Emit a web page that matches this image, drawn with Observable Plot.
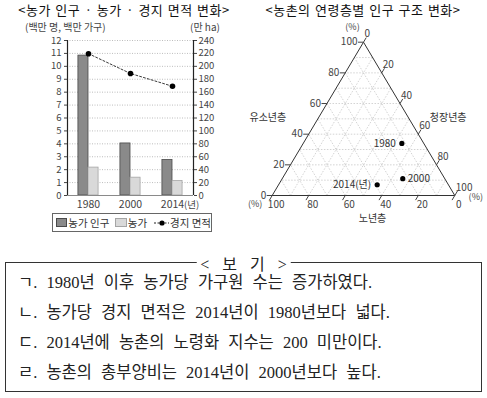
<!DOCTYPE html>
<html>
<head>
<meta charset="utf-8">
<script src="https://cdn.jsdelivr.net/npm/d3@7"></script>
<script src="https://cdn.jsdelivr.net/npm/@observablehq/plot@0.6"></script>
<style>
  html, body { margin: 0; padding: 0; background: #fff; }
  #page { position: relative; width: 487px; height: 398px; overflow: hidden; background: #fff;
          font-family: "Noto Sans CJK KR", "Noto Sans", sans-serif; color: #222; }
  .abs { position: absolute; white-space: nowrap; }
  .title { font-size: 13px; color: #111; transform: translateX(-50%); letter-spacing: 0.5px; word-spacing: 1px; }
  .unit { font-size: 10px; color: #444; }
  #legend { left: 52px; top: 213px; width: 158px; height: 17px; border: 1px solid #666;
            display: flex; align-items: center; font-size: 10.5px; color: #333; }
  .sw { display: inline-block; width: 10px; height: 7px; margin: 0 1px 0 3px; }
  #box { left: 5px; top: 262px; width: 475px; height: 128px; border: 1px solid #333; }
  #boxlabel { left: 50%; top: -12px; transform: translateX(-50%); background: #fff; padding: 0 4px;
              font-family: "Liberation Serif", "Noto Sans CJK KR", serif; font-size: 16px; color: #222; word-spacing: 9px; }
  .stmt { left: 12px; font-family: "Liberation Serif", "Noto Sans CJK KR", serif; font-size: 16.5px; color: #222;
          line-height: 20px; word-spacing: 5px; }
</style>
</head>
<body>
<div id="page"></div>
<script>
// ---------------- data ----------------
const years = ["1980", "2000", "2014"];
const farmPopulation = [10.83, 4.03, 2.75];   // 농가 인구 (백만 명)
const farmHouseholds = [2.16, 1.38, 1.12];    // 농가 (백만 가구)
const farmlandArea = [219.6, 188.9, 169.1];   // 경지 면적 (만 ha)
const leftTicks = [0, 1, 2, 3, 4, 5, 6, 7, 8, 9, 10, 11, 12];
const rightTicks = [0, 20, 40, 60, 80, 100, 120, 140, 160, 180, 200, 220, 240];

const ternYears = ["1980", "2000", "2014"];
const youthShare = [34, 11, 7];      // 유소년층 (%)
const workingShare = [54, 66, 54];   // 청장년층 (%)
const elderlyShare = [12, 23, 39];   // 노년층 (%)
const ternTicks = [0, 20, 40, 60, 80, 100];

const statements = [
  "ㄱ. 1980년 이후 농가당 가구원 수는 증가하였다.",
  "ㄴ. 농가당 경지 면적은 2014년이 1980년보다 넓다.",
  "ㄷ. 2014년에 농촌의 노령화 지수는 200 미만이다.",
  "ㄹ. 농촌의 총부양비는 2014년이 2000년보다 높다."
];

// ---------------- page ----------------
const page = document.getElementById("page");
function addDiv(cls, text, style) {
  const d = document.createElement("div");
  d.className = "abs " + cls;
  d.textContent = text;
  Object.assign(d.style, style || {});
  page.appendChild(d);
  return d;
}
const FONT = "'Noto Sans CJK KR', 'Noto Sans', sans-serif";

// ---------------- left chart ----------------
const ratio = rightTicks[rightTicks.length - 1] / leftTicks[leftTicks.length - 1];
const rows = years.map((y, i) => ({ year: y, i, pop: farmPopulation[i], hh: farmHouseholds[i], area: farmlandArea[i] }));
const barW = 0.24;
const cx = d => d.i + 0.5;

const left = Plot.plot({
  width: 245, height: 240,
  marginLeft: 67, marginRight: 52, marginTop: 40, marginBottom: 45,
  style: { fontFamily: FONT, fontSize: "9.5px", color: "#444", background: "transparent", overflow: "visible" },
  x: { domain: [0, years.length], axis: null },
  y: { domain: [0, leftTicks[leftTicks.length - 1]], axis: null },
  marks: [
    Plot.ruleY(leftTicks.filter(d => d > 0), { stroke: "#bdbdbd", strokeDasharray: "1,1.5" }),
    Plot.rect(rows, { x1: d => cx(d) - barW, x2: cx, y1: () => 0, y2: "pop", fill: "#8a8a8a", stroke: "#4a4a4a", strokeWidth: 0.8 }),
    Plot.rect(rows, { x1: cx, x2: d => cx(d) + barW, y1: () => 0, y2: "hh", fill: "#d9d9d9", stroke: "#a5a5a5", strokeWidth: 0.8 }),
    Plot.line(rows, { x: cx, y: d => d.area / ratio, stroke: "#222", strokeWidth: 0.9, strokeDasharray: "2,2" }),
    Plot.dot(rows, { x: cx, y: d => d.area / ratio, r: 2.8, fill: "#000", stroke: null }),
    Plot.ruleY([0], { stroke: "#8a8a8a" }),
    Plot.ruleX([0], { stroke: "#222", strokeWidth: 1.2 }),
    Plot.ruleX([years.length], { stroke: "#222", strokeWidth: 1.2 }),
    Plot.axisY(leftTicks, { anchor: "left", tickSize: 3, tickPadding: 3, tickFormat: d => d }),
    Plot.axisY(rightTicks.map(v => v / ratio), { anchor: "right", tickSize: 3, tickPadding: 2, tickFormat: d => Math.round(d * ratio) }),
    Plot.text(rows, { x: cx, frameAnchor: "bottom", dy: 12, text: "year", fontSize: 10.5, fill: "#444" }),
    Plot.text(rows.slice(-1), { x: cx, frameAnchor: "bottom", dy: 12, dx: 11.5, textAnchor: "start", text: () => "(년)", fontSize: 9.5, fill: "#444" })
  ]
});
left.style.position = "absolute";
left.style.left = "0px";
left.style.top = "0px";
page.appendChild(left);

addDiv("title", "<농가 인구 · 농가 · 경지 면적 변화>", { left: "124px", top: "0px" });
addDiv("unit", "(백만 명, 백만 가구)", { left: "25px", top: "19px" });
addDiv("unit", "(만 ha)", { left: "190px", top: "19px" });

const legend = addDiv("", "", {});
legend.id = "legend";
legend.innerHTML =
  '<span class="sw" style="background:#8a8a8a;border:1px solid #4a4a4a"></span><span>농가 인구</span>' +
  '<span class="sw" style="background:#d9d9d9;border:1px solid #a5a5a5;margin-left:6px"></span><span>농가</span>' +
  '<svg width="16" height="8" style="margin:0 1px 0 7px"><line x1="0" y1="4" x2="16" y2="4" stroke="#222" stroke-dasharray="2,1.5"/><circle cx="8" cy="4" r="2.6" fill="#000"/></svg><span>경지 면적</span>';

// ---------------- ternary chart ----------------
const tx = (a, w) => (w + a / 2) / 100;
const ty = (a) => a / 100;
const pts = ternYears.map((y, i) => ({ year: y, a: youthShare[i], w: workingShare[i], e: elderlyShare[i] }));

// grid segments every 10%
const gridSegs = [];
for (const k of d3.range(10, 100, 10)) {
  gridSegs.push({ a1: k, w1: 100 - k, a2: k, w2: 0 });          // constant youth
  gridSegs.push({ a1: 0, w1: k, a2: 100 - k, w2: k });          // constant working
  gridSegs.push({ a1: 0, w1: 100 - k, a2: 100 - k, w2: 0 });    // constant elderly
}
const outline = [{ a: 0, w: 0 }, { a: 0, w: 100 }, { a: 100, w: 0 }, { a: 0, w: 0 }];
const t = 3;
const youthTicks = ternTicks.map(v => ({ v, a: v, w: 0 }));
const workTicks = ternTicks.map(v => ({ v, a: 100 - v, w: v }));
const elderTicks = ternTicks.map(v => ({ v, a: 0, w: 100 - v }));

const tern = Plot.plot({
  width: 242, height: 240,
  marginLeft: 26.7, marginRight: 32.7, marginTop: 41.7, marginBottom: 45,
  style: { fontFamily: FONT, fontSize: "10px", color: "#444", background: "transparent", overflow: "visible" },
  x: { domain: [0, 1], axis: null },
  y: { domain: [0, 1], axis: null },
  marks: [
    Plot.link(gridSegs, { x1: d => tx(d.a1, d.w1), y1: d => ty(d.a1), x2: d => tx(d.a2, d.w2), y2: d => ty(d.a2),
      stroke: "#c8c8c8", strokeWidth: 0.8, strokeDasharray: "1.5,1.5" }),
    Plot.line(outline, { x: d => tx(d.a, d.w), y: d => ty(d.a), stroke: "#333", strokeWidth: 1 }),
    // tick marks
    Plot.link(youthTicks, { x1: d => tx(d.a, d.w), y1: d => ty(d.a), x2: d => tx(d.a, -t), y2: d => ty(d.a), stroke: "#444" }),
    Plot.link(workTicks, { x1: d => tx(d.a, d.w), y1: d => ty(d.a), x2: d => tx(d.a + t, d.w), y2: d => ty(d.a + t), stroke: "#444" }),
    Plot.link(elderTicks, { x1: d => tx(d.a, d.w), y1: d => ty(d.a), x2: d => tx(-t, d.w), y2: d => ty(-t), stroke: "#444" }),
    // tick labels
    Plot.text(youthTicks, { x: d => tx(d.a, d.w), y: d => ty(d.a), text: "v", textAnchor: "end", dx: -6, fill: "#444" }),
    Plot.text(workTicks, { x: d => tx(d.a, d.w), y: d => ty(d.a), text: "v", textAnchor: "start", dx: 1, dy: -8, fill: "#444" }),
    Plot.text(elderTicks, { x: d => tx(d.a, d.w), y: d => ty(d.a), text: "v", dx: 4, dy: 9, fill: "#444" }),
    // (%) labels
    Plot.text([{ a: 100, w: 0 }], { x: d => tx(d.a, d.w), y: d => ty(d.a), text: () => "(%)", dx: -11, dy: -15, fill: "#444", fontSize: 9 }),
    Plot.text([{ a: 0, w: 100 }], { x: d => tx(d.a, d.w), y: d => ty(d.a), text: () => "(%)", dx: 21, dy: 2, fill: "#444", fontSize: 9 }),
    Plot.text([{ a: 0, w: 0 }], { x: d => tx(d.a, d.w), y: d => ty(d.a), text: () => "(%)", dx: -17, dy: 9, fill: "#444", fontSize: 9 }),
    // axis titles
    Plot.text([{ a: 50, w: 0 }], { x: d => tx(d.a, d.w), y: d => ty(d.a), text: () => "유소년층", dx: -50, dy: -1, fill: "#333" }),
    Plot.text([{ a: 50, w: 50 }], { x: d => tx(d.a, d.w), y: d => ty(d.a), text: () => "청장년층", dx: 39, dy: -1, fill: "#333" }),
    Plot.text([{ a: 0, w: 50 }], { x: d => tx(d.a, d.w), y: d => ty(d.a), text: () => "노년층", dx: 9, dy: 23, fill: "#333" }),
    // points
    Plot.dot(pts, { x: d => tx(d.a, d.w), y: d => ty(d.a), r: 2.6, fill: "#000", stroke: null }),
    Plot.text(pts.filter(d => d.year !== "2000"), { x: d => tx(d.a, d.w), y: d => ty(d.a),
      text: d => d.year === "2014" ? d.year + "(년)" : d.year, textAnchor: "end", dx: -6, fill: "#333" }),
    Plot.text(pts.filter(d => d.year === "2000"), { x: d => tx(d.a, d.w), y: d => ty(d.a),
      text: "year", textAnchor: "start", dx: 5, fill: "#333" })
  ]
});
tern.style.position = "absolute";
tern.style.left = "245px";
tern.style.top = "0px";
page.appendChild(tern);

addDiv("title", "<농촌의 연령층별 인구 구조 변화>", { left: "363px", top: "0px" });

// ---------------- 보기 box ----------------
const box = addDiv("", "", {});
box.id = "box";
const bl = document.createElement("div");
bl.className = "abs";
bl.id = "boxlabel";
bl.textContent = "< 보 기 >";
box.appendChild(bl);
statements.forEach((s, i) => {
  const d = document.createElement("div");
  d.className = "abs stmt";
  d.textContent = s;
  d.style.top = (10 + i * 30) + "px";
  box.appendChild(d);
});
</script>
</body>
</html>
